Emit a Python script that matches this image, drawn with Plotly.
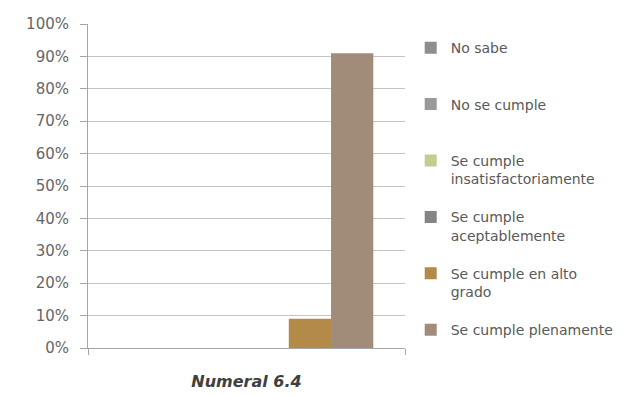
import plotly.graph_objects as go

# Single category, six response levels
categories = ["Numeral 6.4"]
series_names = [
    "No sabe",
    "No se cumple",
    "Se cumple insatisfactoriamente",
    "Se cumple aceptablemente",
    "Se cumple en alto grado",
    "Se cumple plenamente",
]
legend_labels = [
    "No sabe<br> ",
    "No se cumple<br> ",
    "Se cumple<br>insatisfactoriamente",
    "Se cumple<br>aceptablemente",
    "Se cumple en alto<br>grado",
    "Se cumple plenamente",
]
series_values = [0.0, 0.0, 0.0, 0.0, 0.09, 0.91]
series_colors = ["#8e8e8e", "#9a9a9a", "#c5cc8f", "#858585", "#b48a48", "#a08c79"]
y_tick_values = [i / 10 for i in range(11)]
y_tick_labels = [f"{i * 10}%" for i in range(11)]

fig = go.Figure()
for name, label, val, col in zip(series_names, legend_labels, series_values, series_colors):
    fig.add_trace(go.Bar(
        x=categories,
        y=[val],
        name=label,
        legendgroup=name,
        marker=dict(color=col, line=dict(width=0)),
        hovertext=name,
    ))

fig.update_layout(
    width=624,
    height=395,
    barmode="group",
    bargap=0.2,
    bargroupgap=0,
    paper_bgcolor="white",
    plot_bgcolor="white",
    margin=dict(l=88, r=219, t=24, b=47, autoexpand=False),
    font=dict(family="DejaVu Sans", color="#595959"),
    legend=dict(
        x=1.018, y=0.975, xanchor="left", yanchor="top",
        font=dict(size=14, color="#595959", family="DejaVu Sans"),
        valign="top",
        tracegroupgap=17,
        bgcolor="rgba(0,0,0,0)",
        itemwidth=30,
    ),
    showlegend=True,
)

fig.update_yaxes(
    range=[0, 1],
    tickvals=y_tick_values,
    ticktext=y_tick_labels,
    showgrid=True,
    gridcolor="#c4c4c4",
    gridwidth=1,
    showline=True,
    linecolor="#a6a6a6",
    linewidth=1,
    ticks="outside",
    ticklen=7,
    tickcolor="#a6a6a6",
    ticklabelstandoff=8,
    tickfont=dict(size=15, color="#666666", family="DejaVu Sans"),
    zeroline=False,
)

fig.update_xaxes(
    showline=True,
    linecolor="#a6a6a6",
    linewidth=1,
    ticks="outside",
    tickson="boundaries",
    ticklen=6,
    tickcolor="#a6a6a6",
    ticklabelstandoff=19,
    tickfont=dict(size=16, color="#404040", family="DejaVu Sans",
                  weight="bold", style="italic"),
    showgrid=False,
)

fig.write_html("out.html")
